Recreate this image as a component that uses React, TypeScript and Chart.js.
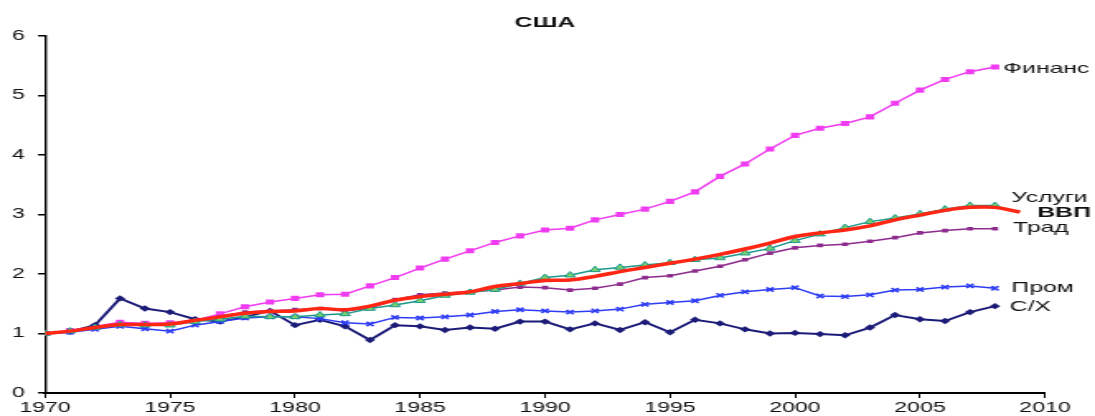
import React, { useEffect, useRef } from "react";
import { Chart, registerables } from "chart.js";

Chart.register(...registerables);

// ---------- data ----------
const years = [
  1970, 1971, 1972, 1973, 1974, 1975, 1976, 1977, 1978, 1979,
  1980, 1981, 1982, 1983, 1984, 1985, 1986, 1987, 1988, 1989,
  1990, 1991, 1992, 1993, 1994, 1995, 1996, 1997, 1998, 1999,
  2000, 2001, 2002, 2003, 2004, 2005, 2006, 2007, 2008,
];
const gdpYears = [...years, 2009];

const finance = [
  1.0, 1.05, 1.12, 1.19, 1.17, 1.18, 1.22, 1.33, 1.45, 1.53,
  1.59, 1.65, 1.66, 1.8, 1.94, 2.1, 2.25, 2.39, 2.53, 2.64,
  2.74, 2.77, 2.91, 3.0, 3.09, 3.22, 3.38, 3.64, 3.85, 4.1,
  4.33, 4.45, 4.53, 4.64, 4.87, 5.09, 5.27, 5.4, 5.48,
];
const services = [
  1.0, 1.04, 1.1, 1.15, 1.14, 1.14, 1.2, 1.24, 1.29, 1.28,
  1.28, 1.31, 1.33, 1.42, 1.48, 1.55, 1.64, 1.69, 1.74, 1.84,
  1.94, 1.98, 2.07, 2.11, 2.15, 2.19, 2.24, 2.27, 2.35, 2.43,
  2.56, 2.67, 2.78, 2.88, 2.94, 3.01, 3.09, 3.15, 3.15,
];
const gdp = [
  1.0, 1.04, 1.1, 1.15, 1.15, 1.16, 1.22, 1.28, 1.34, 1.37,
  1.38, 1.42, 1.4, 1.46, 1.56, 1.62, 1.66, 1.7, 1.79, 1.84,
  1.89, 1.9, 1.96, 2.04, 2.11, 2.18, 2.25, 2.33, 2.42, 2.52,
  2.63, 2.69, 2.74, 2.81, 2.91, 2.99, 3.07, 3.12, 3.12, 3.04,
];
const trad = [
  1.0, 1.04, 1.1, 1.14, 1.15, 1.16, 1.22, 1.28, 1.36, 1.38,
  1.4, 1.42, 1.38, 1.43, 1.57, 1.65, 1.68, 1.7, 1.73, 1.78,
  1.77, 1.73, 1.76, 1.83, 1.94, 1.97, 2.05, 2.13, 2.24, 2.35,
  2.44, 2.48, 2.5, 2.55, 2.61, 2.69, 2.73, 2.76, 2.76,
];
const industry = [
  1.0, 1.02, 1.07, 1.12, 1.08, 1.04, 1.14, 1.2, 1.26, 1.28,
  1.28, 1.25, 1.18, 1.16, 1.27, 1.26, 1.28, 1.31, 1.37, 1.4,
  1.38, 1.36, 1.38, 1.41, 1.49, 1.52, 1.55, 1.64, 1.7, 1.74,
  1.77, 1.63, 1.62, 1.65, 1.73, 1.74, 1.78, 1.8, 1.76,
];
const agri = [
  1.0, 1.03, 1.14, 1.59, 1.42, 1.36, 1.24, 1.2, 1.28, 1.38,
  1.14, 1.23, 1.12, 0.89, 1.14, 1.12, 1.06, 1.1, 1.08, 1.2,
  1.2, 1.07, 1.17, 1.06, 1.19, 1.02, 1.23, 1.17, 1.07, 1.0,
  1.01, 0.99, 0.97, 1.1, 1.31, 1.24, 1.21, 1.36, 1.46,
];

const xTicks = [1970, 1975, 1980, 1985, 1990, 1995, 2000, 2005, 2010];
const yTicks = [0, 1, 2, 3, 4, 5, 6];
const chartTitle = "США";

// ---------- layout ----------
const OUT_W = 1095;
const OUT_H = 416;
const CW = 664; // canvas drawn narrower, then stretched horizontally
const SX = OUT_W / CW;
const FONT = '"Liberation Sans", Arial, sans-serif';

const pts = (xs: number[], ys: number[]) => xs.map((x, i) => ({ x, y: ys[i] }));

const endLabels = {
  id: "endLabels",
  afterDatasetsDraw(chart: any) {
    const ctx = chart.ctx;
    chart.data.datasets.forEach((ds: any, i: number) => {
      const lab = ds.endLabel;
      if (!lab) return;
      const meta = chart.getDatasetMeta(i);
      const el = meta.data[meta.data.length - 1];
      if (!el) return;
      ctx.save();
      ctx.font = `${lab.bold ? "bold " : ""}15px ${FONT}`;
      ctx.fillStyle = "#111";
      ctx.textAlign = "left";
      ctx.textBaseline = "middle";
      ctx.fillText(lab.text, el.x + lab.dx, el.y + lab.dy);
      ctx.restore();
    });
  },
};

const titlePlugin = {
  id: "centerTitle",
  afterDraw(chart: any) {
    const ctx = chart.ctx;
    const a = chart.chartArea;
    ctx.save();
    ctx.font = `bold 15px ${FONT}`;
    ctx.fillStyle = "#111";
    ctx.textAlign = "center";
    ctx.textBaseline = "middle";
    ctx.fillText(chartTitle, (a.left + a.right) / 2, 22.5);
    ctx.restore();
  },
};

export default function App() {
  const ref = useRef<HTMLCanvasElement | null>(null);

  useEffect(() => {
    if (!ref.current) return;
    const chart = new Chart(ref.current, {
      type: "line",
      data: {
        datasets: [
          {
            label: "ВВП",
            data: pts(gdpYears, gdp),
            borderColor: "#FF2614",
            borderWidth: 3.5,
            pointRadius: 0,
            tension: 0.35,
            order: 0,
            endLabel: { text: "ВВП", dx: 10.5, dy: 1, bold: true },
          } as any,
          {
            label: "Финанс",
            data: pts(years, finance),
            borderColor: "#F03CF0",
            borderWidth: 1.5,
            pointStyle: "rect",
            pointRadius: 3.6,
            pointBackgroundColor: "#F03CF0",
            pointBorderWidth: 0,
            order: 5,
            endLabel: { text: "Финанс", dx: 5, dy: 1.5 },
          } as any,
          {
            label: "Услуги",
            data: pts(years, services),
            borderColor: "#1E9A8C",
            borderWidth: 1.5,
            pointStyle: "triangle",
            pointRadius: 3.6,
            pointBackgroundColor: "#7CD26A",
            pointBorderColor: "#1E9A8C",
            pointBorderWidth: 1,
            order: 1,
            endLabel: { text: "Услуги", dx: 10, dy: -8 },
          } as any,
          {
            label: "Трад",
            data: pts(years, trad),
            borderColor: "#8E2C8E",
            borderWidth: 1.5,
            pointStyle: "rect",
            pointRadius: 2.6,
            pointBackgroundColor: "#8E2C8E",
            pointBorderWidth: 0,
            order: 2,
            endLabel: { text: "Трад", dx: 11, dy: -1 },
          } as any,
          {
            label: "Пром",
            data: pts(years, industry),
            borderColor: "#2E3CF5",
            borderWidth: 1.5,
            pointStyle: "crossRot",
            pointRadius: 3,
            pointBorderColor: "#2E3CF5",
            pointBorderWidth: 1.6,
            order: 3,
            endLabel: { text: "Пром", dx: 10, dy: 0 },
          } as any,
          {
            label: "С/Х",
            data: pts(years, agri),
            borderColor: "#1C1C78",
            borderWidth: 2,
            pointStyle: "rectRot",
            pointRadius: 3.2,
            pointBackgroundColor: "#1C1C78",
            pointBorderWidth: 0,
            order: 4,
            endLabel: { text: "С/Х", dx: 9, dy: 0.5 },
          } as any,
        ],
      },
      options: {
        animation: false,
        responsive: false,
        devicePixelRatio: 1,
        layout: { padding: { top: 36, right: CW - 1045 / SX, left: 0, bottom: 0 } },
        plugins: {
          legend: { display: false },
          title: { display: false },
          tooltip: { enabled: false },
        },
        scales: {
          x: {
            type: "linear",
            min: xTicks[0],
            max: xTicks[xTicks.length - 1],
            afterBuildTicks: (scale: any) => {
              scale.ticks = xTicks.map((v) => ({ value: v }));
            },
            afterFit: (scale: any) => {
              scale.height = OUT_H - 393;
            },
            grid: {
              drawOnChartArea: false,
              drawTicks: true,
              tickLength: 5,
              color: "#000",
              lineWidth: 1,
            },
            border: { display: true, color: "#000", width: 2 },
            ticks: {
              padding: 2,
              maxRotation: 0,
              color: "#111",
              font: { family: FONT, size: 14 },
              callback: (v: any) => String(v),
            },
          },
          y: {
            type: "linear",
            min: yTicks[0],
            max: yTicks[yTicks.length - 1],
            afterBuildTicks: (scale: any) => {
              scale.ticks = yTicks.map((v) => ({ value: v }));
            },
            afterFit: (scale: any) => {
              scale.width = 45 / SX;
            },
            grid: {
              drawOnChartArea: false,
              drawTicks: true,
              tickLength: 4.3,
              color: "#000",
              lineWidth: 1.5,
            },
            border: { display: true, color: "#000", width: 1.4 },
            ticks: {
              padding: 8,
              color: "#111",
              font: { family: FONT, size: 14 },
              callback: (v: any) => String(v),
            },
          },
        },
      },
      plugins: [endLabels, titlePlugin],
    } as any);
    return () => chart.destroy();
  }, []);

  return (
    <div
      style={{
        position: "fixed",
        left: 0,
        top: 0,
        width: OUT_W,
        height: OUT_H,
        overflow: "hidden",
        background: "#fff",
      }}
    >
      <div
        style={{
          width: CW,
          height: OUT_H,
          transform: `scaleX(${SX})`,
          transformOrigin: "0 0",
        }}
      >
        <canvas ref={ref} width={CW} height={OUT_H} style={{ display: "block" }} />
      </div>
    </div>
  );
}
